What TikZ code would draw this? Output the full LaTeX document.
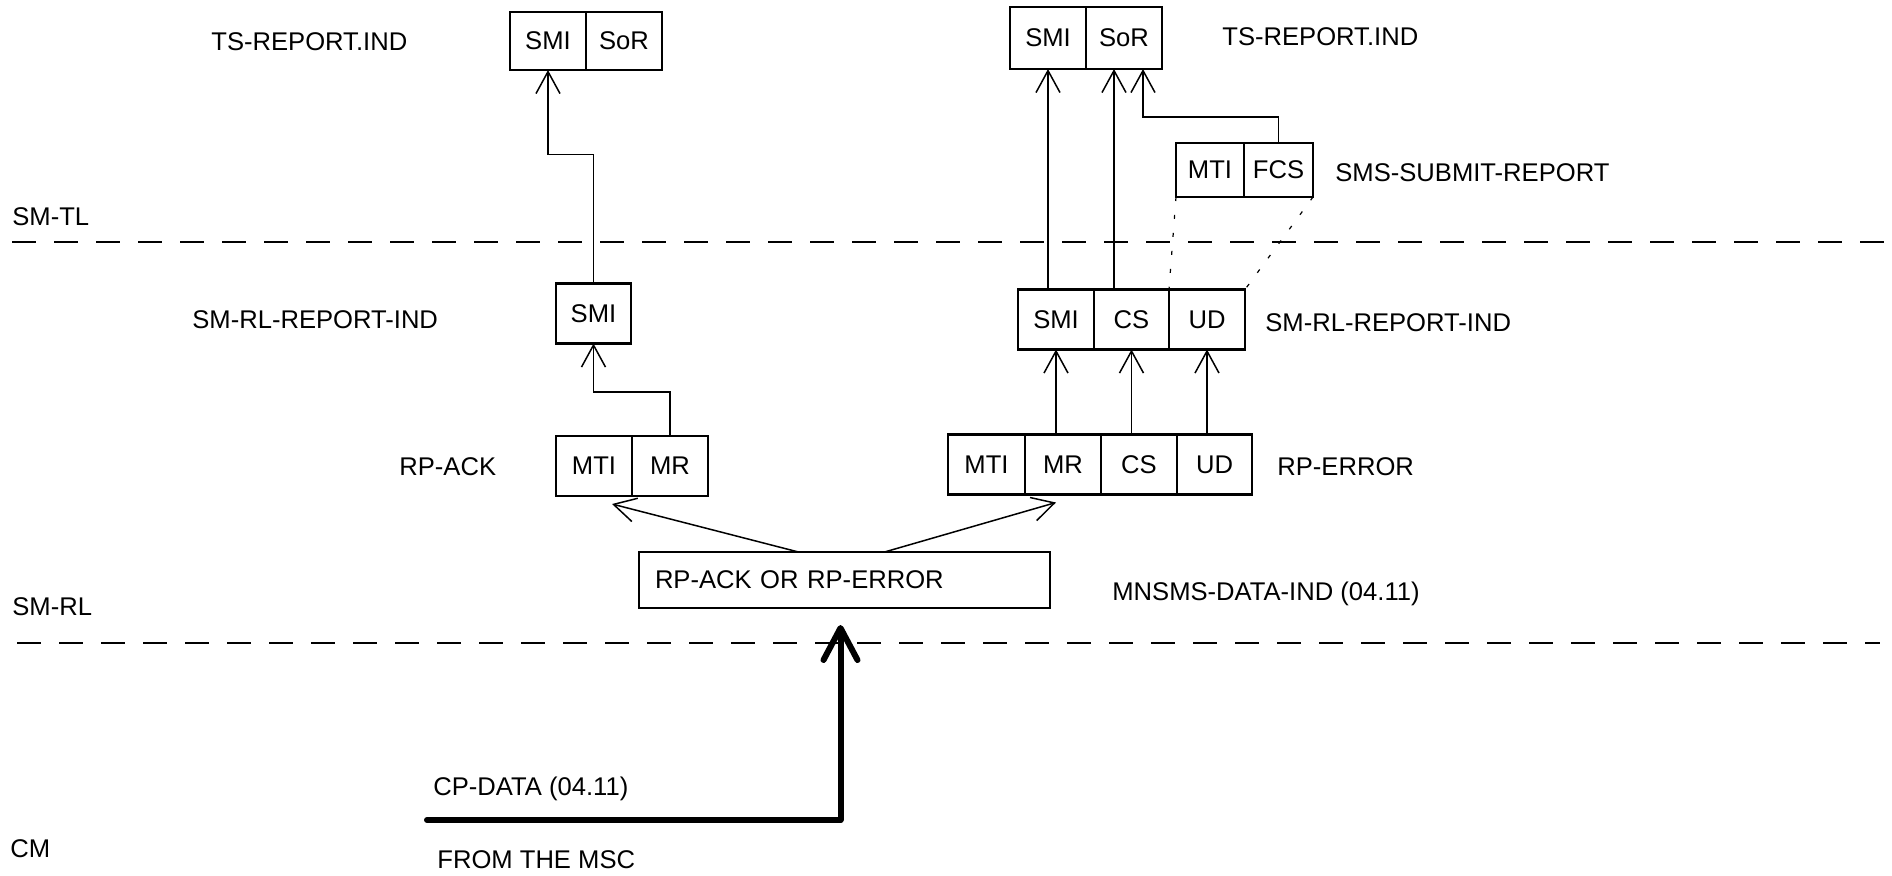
\documentclass[tikz,border=0pt]{standalone}
\usepackage{fontspec}
\setmainfont{Liberation Sans}
\usepackage{tikz}
\usetikzlibrary{positioning,arrows.meta}
\tikzset{
  cell/.style={rectangle, draw, line width=1.3pt, outer sep=0pt, inner sep=0pt,
               minimum width=38pt, minimum height=30pt, font=\fontsize{12.8}{15}\selectfont},
  tag/.style={anchor=base west, inner sep=0pt, font=\fontsize{12.8}{15}\selectfont},
  layer/.style={line width=.6pt, dash pattern=on 12pt off 9pt},
  dots/.style={line width=.6pt, dash pattern=on 2pt off 7pt},
  arr/.style={-{Straight Barb[length=11pt,width=12pt]}, line width=.75pt},
  bigarr/.style={-{Straight Barb[length=16pt,width=17pt,round]}, line width=3pt,
                 line join=round, line cap=round},
}

\begin{document}
\begin{tikzpicture}[x=0.5pt,y=-0.5pt]
      \useasboundingbox (0,0) rectangle (1892,875);
      % layer borders
      \draw[layer] (12,242) -- (1892,242);
      \draw[layer] (17,643) -- (1880,643);
      \node[tag] (tlLbl) at (12,225) {SM-TL};
      \node[tag] (rlLbl) at (12,615) {SM-RL};
      \node[tag] (cmLbl) at (10,857) {CM};
      % RP-ACK side
      \node[cell, minimum height=29pt] (tsLsmi) at (548,41) {SMI};
      \node[cell, minimum height=29pt, right=0pt of tsLsmi] (tsLsor) {SoR};
      \node[cell, minimum width=37.5pt] (smiL) at (593.5,313.5) {SMI};
      \node[cell] (ackMti) at (594,466) {MTI};
      \node[cell, right=0pt of ackMti] (ackMr) {MR};
      \node[tag] (tsLLbl) at (211,50) {TS-REPORT.IND};
      \node[tag] (rlLLbl) at (192,328) {SM-RL-REPORT-IND};
      \node[tag] (ackLbl) at (399,475) {RP-ACK};
      % RP-ERROR side
      \node[cell, minimum height=31pt] (tsRsmi) at (1048,38) {SMI};
      \node[cell, minimum height=31pt, right=0pt of tsRsmi] (tsRsor) {SoR};
      \node[cell, minimum width=34pt, minimum height=27pt] (sMti) at (1210,170) {MTI};
      \node[cell, minimum width=34.5pt, minimum height=27pt, right=0pt of sMti] (sFcs) {FCS};
      \node[cell] (rSmi) at (1056,319.5) {SMI};
      \node[cell, minimum width=37.5pt, right=0pt of rSmi] (rCs) {CS};
      \node[cell, right=0pt of rCs] (rUd) {UD};
      \node[cell, minimum width=38.5pt] (eMti) at (986.5,464.5) {MTI};
      \node[cell, right=0pt of eMti] (eMr) {MR};
      \node[cell, right=0pt of eMr] (eCs) {CS};
      \node[cell, minimum width=37.5pt, right=0pt of eCs] (eUd) {UD};
      \node[tag] (tsRLbl) at (1222,45) {TS-REPORT.IND};
      \node[tag] (subLbl) at (1335,181) {SMS-SUBMIT-REPORT};
      \node[tag] (rlRLbl) at (1265,331) {SM-RL-REPORT-IND};
      \node[tag] (errLbl) at (1277,475) {RP-ERROR};
      % relay message
      \node[cell, line width=1.1pt, minimum width=205.5pt, minimum height=28pt, text width=189.5pt,
            align=left, inner xsep=8pt] (rpBox) at (844.5,580) {RP-ACK OR RP-ERROR};
      \node[tag] (dataLbl) at (1112,600) {MNSMS-DATA-IND (04.11)};
      \node[tag] (cpLbl) at (433,795) {CP-DATA (04.11)};
      \node[tag] (mscLbl) at (437,868) {FROM THE MSC};
      \coordinate (msc) at (427,820);
      \coordinate (sorIn) at ([xshift=-5pt]tsRsor.south);
      \coordinate (fcsIn) at ([xshift=9.5pt]tsRsor.south);
      % connectors
      \draw[bigarr] (msc) -| ([shift={(-2pt,-8.5pt)}]rpBox.south);
      \draw[arr] ([xshift=-23pt]rpBox.north) -- ([shift={(-10pt,-4pt)}]ackMti.south east);
      \draw[arr] ([xshift=20pt]rpBox.north) -- ([shift={(-3.5pt,-4pt)}]eMr.south);
      \draw[arr] (ackMr.north) -- ++(0,-44) -| (smiL.south);
      \draw[arr] (smiL.north) -- ++(0,-129) -| (tsLsmi.south);
      \foreach \a/\b in {eMr/rSmi,eCs/rCs,eUd/rUd}
        {\draw[arr] (\a.north -| \b.south) -- (\b.south);}
      \draw[arr] (rSmi.north -| tsRsmi.south) -- (tsRsmi.south);
      \draw[arr] (rCs.north -| sorIn) -- (sorIn);
      \draw[arr] (sFcs.north) -- ++(0,-26) -| (fcsIn);
      \draw[dots] (sMti.south west) -- (rCs.north east);
      \draw[dots] (sFcs.south east) -- (rUd.north east);
    \end{tikzpicture}
\end{document}
